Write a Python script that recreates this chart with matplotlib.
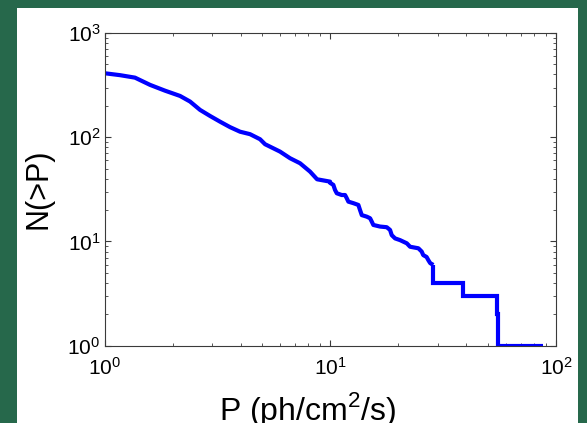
import matplotlib
matplotlib.use("Agg")
import matplotlib.pyplot as plt
from matplotlib.patches import Rectangle

p_body = [1.0, 1.169, 1.362, 1.588, 1.848, 2.157, 2.389, 2.645, 2.93, 3.245, 3.593,
          3.979, 4.406, 4.88, 5.136, 5.984, 6.628, 7.339, 8.128, 8.733, 9.97, 9.97,
          10.31, 10.49, 10.68, 11.23, 11.62, 11.82, 12.02, 12.65, 13.31, 13.54, 13.78,
          14.5, 15.0, 15.26, 15.51, 16.61, 17.78, 18.39, 18.71, 19.36, 20.37, 21.07,
          21.82, 22.56, 24.56, 25.4, 25.8, 26.7, 27.2, 27.7, 28.6]
n_body = [411, 394, 373, 318, 280, 249, 220, 183, 160, 141, 125,
          113, 107, 95.7, 85.7, 72.8, 62.9, 56.3, 46.8, 39.5, 37.5, 36.5,
          34.9, 31.2, 29.0, 27.9, 27.9, 26.0, 24.1, 23.3, 22.4, 20.0, 17.9,
          17.3, 16.7, 15.5, 14.4, 13.9, 13.7, 12.9, 11.5, 10.7, 10.3, 9.95,
          9.6, 8.9, 8.6, 8.0, 7.4, 7.1, 6.6, 6.2, 5.95]

# Sparse tail: a few bright events (drawn as a staircase)
p_tail = [28.6, 38.9, 54.7, 55.4, 87.9]
n_tail = [5.95, 4, 3, 2, 1]

x_ticks = [1, 10, 100]
y_ticks = [1, 10, 100, 1000]

GREEN = "#26684b"
BLUE = "#0000ff"

plt.rcParams['font.family'] = ['Liberation Sans', 'DejaVu Sans']
plt.rcParams['mathtext.fontset'] = 'custom'
plt.rcParams['mathtext.rm'] = 'Liberation Sans'

fig = plt.figure(figsize=(5.87, 4.23), dpi=100)
fig.patch.set_facecolor(GREEN)
fig.patches.append(Rectangle((17 / 587, 0), (578 - 17) / 587, (423 - 8) / 423,
                             transform=fig.transFigure, facecolor="white",
                             edgecolor="none", zorder=-10))

ax = fig.add_axes([104.7 / 587, (423 - 345.7) / 423, (556 - 104.7) / 587, (345.7 - 33) / 423])
ax.set_zorder(1)
ax.set_xscale('log')
ax.set_yscale('log')
ax.set_xlim(1, 100)
ax.set_ylim(1, 1000)
ax.set_xticks(x_ticks)
ax.set_yticks(y_ticks)

ax.plot(p_body, n_body, color=BLUE, lw=3.0, solid_joinstyle='round', solid_capstyle='butt')
ax.plot(p_tail, n_tail, color=BLUE, lw=3.0, drawstyle='steps-pre',
        solid_joinstyle='miter', solid_capstyle='butt')

for s in ax.spines.values():
    s.set_color('#3a3a3a')
    s.set_linewidth(0.8)
ax.tick_params(which='both', direction='in', top=True, right=True, colors='#3a3a3a',
               labelcolor='black', labelsize=15)
ax.tick_params(which='major', length=4, width=0.8)
ax.tick_params(which='minor', length=2.5, width=0.6)
ax.tick_params(axis='x', pad=8)
ax.tick_params(axis='y', pad=3)

ax.set_xlabel('P (ph/cm$^2$/s)', fontsize=23)
ax.xaxis.set_label_coords((308 - 104.7) / 451.3, -(390 - 345.7) / 312.7)
ax.set_ylabel('N(>P)', fontsize=22)
ax.yaxis.set_label_coords(-(104.7 - 53) / 451.3, (345.7 - 189) / 312.7)

fig.savefig('out.png', dpi=100, facecolor=GREEN)
